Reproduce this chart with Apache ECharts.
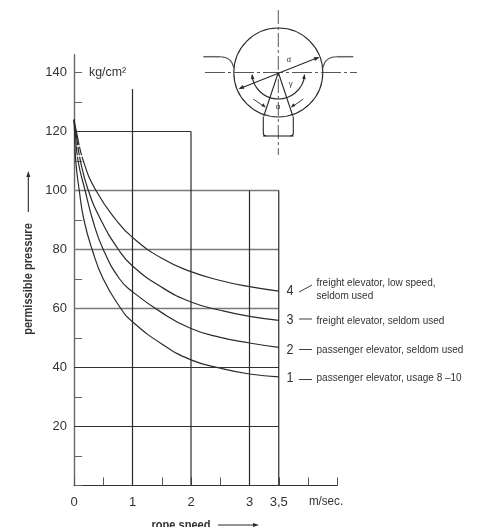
<!DOCTYPE html>
<html><head><meta charset="utf-8">
<style>html,body{margin:0;padding:0;background:#fff}#c{width:478px;height:527px}</style>
<script src="https://cdn.jsdelivr.net/npm/echarts@6/dist/echarts.min.js"></script>
</head><body><div id="c"></div>
<script>
const curve1 = [[0,124],[0.01,120],[0.03,110],[0.09,100],[0.17,90],[0.31,80],[0.5,70],[0.8,60],[1,55.5],[1.5,48],[2,42.6],[2.5,39.8],[3,37.8],[3.5,36.8]];
const curve2 = [[0,124],[0.02,120],[0.07,110],[0.19,100],[0.32,90],[0.5,80],[0.78,70],[1,65.7],[1.5,58.6],[2,53.2],[2.5,50.2],[3,48.3],[3.5,46.8]];
const curve3 = [[0,124],[0.03,120],[0.11,110],[0.245,100],[0.46,90],[0.76,80],[1,74.4],[1.5,67.2],[2,62.2],[2.5,59.4],[3,57.3],[3.5,56]];
const curve4 = [[0,124],[0.04,120],[0.16,110],[0.376,100],[0.72,90],[1,84.1],[1.5,77],[2,72.5],[2.5,69.5],[3,67.4],[3.5,65.9]];
const hLines = [[120,2],[100,3.5],[80,3.5],[60,3.5],[40,3.5],[20,3.5]];
const vLines = [[1,134.4],[2,120],[3,100],[3.5,100]];
const yTicks = [0,10,20,30,40,50,60,70,80,90,100,110,120,130,140];
const yLabels = [20,40,60,80,100,120,140];
const xTicks = [0,0.5,1,1.5,2,2.5,3,3.5,4,4.5];
const xLabels = {0:'0',1:'1',2:'2',3:'3',3.5:'3,5'};
const legendNames = [
  ['4','freight elevator, low speed,\nseldom used'],
  ['3','freight elevator, seldom used'],
  ['2','passenger elevator, seldom used'],
  ['1','passenger elevator, usage 8 –10']
];

const FONT = '"Liberation Sans",sans-serif';
const TXT = '#333';
const chart = echarts.init(document.getElementById('c'), null, {renderer:'canvas'});

function ruleSeries(data, color, width){
  return {type:'line', data, symbol:'none', silent:true, animation:false, z:1,
    lineStyle:{color, width}};
}
const series = [];
hLines.forEach(([v,end])=>{
  const gray = v===100||v===80||v===60;
  series.push(ruleSeries([[0,v],[end,v]], gray?'#7a7a7a':'#333', gray?1.5:1));
});
vLines.forEach(([x,top])=>series.push(ruleSeries([[x,0],[x,top]],'#2a2a2a',1.2)));
[curve1,curve2,curve3,curve4].forEach(c=>series.push({type:'line',data:c,symbol:'none',smooth:0.5,
  silent:true,animation:false,z:3,lineStyle:{color:'#2b2b2b',width:1.2}}));

const G=[];
const S='#2a2a2a';
function line(x1,y1,x2,y2,o={}){G.push({type:'line',z:10,shape:{x1,y1,x2,y2},style:{stroke:o.c||S,lineWidth:o.w||1.1,lineDash:o.d||null,fill:null}});}
function head(x,y,ang,size=5,w=2){
  const c=Math.cos(ang),s=Math.sin(ang);
  G.push({type:'polygon',z:10,shape:{points:[[x,y],[x-size*c-w*s,y-size*s+w*c],[x-size*c+w*s,y-size*s-w*c]]},style:{fill:S}});
}
function txt(x,y,t,o={}){G.push({type:'text',z:11,x,y,rotation:o.r||0,scaleX:o.k||1,style:{text:t,fill:o.c||TXT,font:(o.b?'bold ':'')+(o.s||12)+'px '+FONT,align:o.a||'left',verticalAlign:'middle',lineHeight:o.lh}});}

txt(89,72,'kg/cm²',{s:13,k:0.95});
txt(326,501.5,'m/sec.',{s:12.5,a:'center',k:0.93});
txt(29,279,'permissible pressure',{b:1,s:12,a:'center',r:Math.PI/2,k:0.925});
txt(181,526,'rope speed',{b:1,s:12,a:'center',k:0.92});
line(28.3,212,28.3,175); head(28.3,171,-Math.PI/2,6,2);
line(218,525,255,525); head(259,525,0,6,2);

const legY=[291,320,350,378], legLabelY=[289.5,321,350,378], leadY=[[292,285],[319,319],[349.5,349.5],[379.5,379.5]];
legendNames.forEach(([n,t],i)=>{
  txt(290,legY[i],n,{s:14,a:'center',k:0.9});
  line(299,leadY[i][0],312,leadY[i][1],{w:0.9});
  txt(316.5,legLabelY[i],t,{s:11.5,lh:13,k:0.87});
});

line(76.5,146,80,146,{c:'#fff',w:1.5});
line(76.5,156,84,156,{c:'#fff',w:1.5});

const cx=278.3,cy=72.5,R=44.5;
G.push({type:'circle',z:10,shape:{cx,cy,r:R},style:{stroke:S,lineWidth:1.1,fill:null}});
line(205,cy,357,cy,{d:[20,3,3,3],w:0.9,c:'#444'});
line(cx,10,cx,155,{d:[14,3,3,3],w:0.9,c:'#444'});
[-1,1].forEach(sg=>{
  const px=v=>cx+sg*v;
  line(px(75),56.7,px(58),56.7,{c:'#666',w:1.5});
  G.push({type:'bezierCurve',z:10,shape:{x1:px(58),y1:56.7,cpx1:px(50),cpy1:56.7,cpx2:px(46),cpy2:60,x2:px(44.5),y2:68},style:{stroke:'#555',lineWidth:1.1,fill:null}});
  line(cx,cy,px(14.5),116);
  line(px(15),116.5,px(15),133);
  G.push({type:'arc',z:10,shape:{cx:px(12),cy:133,r:3,startAngle:sg>0?0:Math.PI/2,endAngle:sg>0?Math.PI/2:Math.PI,clockwise:true},style:{stroke:S,lineWidth:1.1,fill:null}});
  line(px(25),99,px(15),106,{w:0.9});
  head(px(12.5),107.5,Math.atan2(8,sg>0?-10:10),4.5,1.8);
  head(px(26.2),74,-Math.PI/2+(sg>0?0.12:-0.12),5,1.8);
});
line(263,136,293.5,136);
G.push({type:'arc',z:10,shape:{cx,cy,r:26.5,startAngle:0.1,endAngle:Math.PI-0.1,clockwise:true},style:{stroke:S,lineWidth:1.1,fill:null}});
line(240,88.5,318,57.5);
head(238.5,89,Math.atan2(31,-78),5.5,2); head(319.5,57,Math.atan2(-31,78),5.5,2);
txt(288.7,60,'d',{s:8,a:'center'});
txt(290.7,83.5,'γ',{s:8,a:'center'});
txt(278,106.5,'α',{s:8,a:'center'});

chart.setOption({
  animation:false,
  backgroundColor:'#fff',
  grid:{left:74,top:54.8,width:263.25,height:430.7,containLabel:false},
  xAxis:{type:'value',min:0,max:4.5,splitLine:{show:false},
    axisLine:{show:true,onZero:false,lineStyle:{color:'#333',width:1.2}},
    axisTick:{show:true,inside:true,length:8,customValues:xTicks,lineStyle:{color:'#555',width:1}},
    axisLabel:{show:true,margin:10,customValues:Object.keys(xLabels).map(Number),
      formatter:v=>xLabels[v]||'',color:TXT,fontFamily:FONT,fontSize:13,hideOverlap:false,showMinLabel:true,showMaxLabel:true}},
  yAxis:{type:'value',min:0,max:146,splitLine:{show:false},
    axisLine:{show:true,onZero:false,lineStyle:{color:'#666',width:1.4}},
    axisTick:{show:true,inside:true,length:8,customValues:yTicks,lineStyle:{color:'#666',width:1}},
    axisLabel:{show:true,margin:7,customValues:yLabels,color:TXT,fontFamily:FONT,fontSize:13}},
  series,
  graphic:{elements:G}
});
</script></body></html>
